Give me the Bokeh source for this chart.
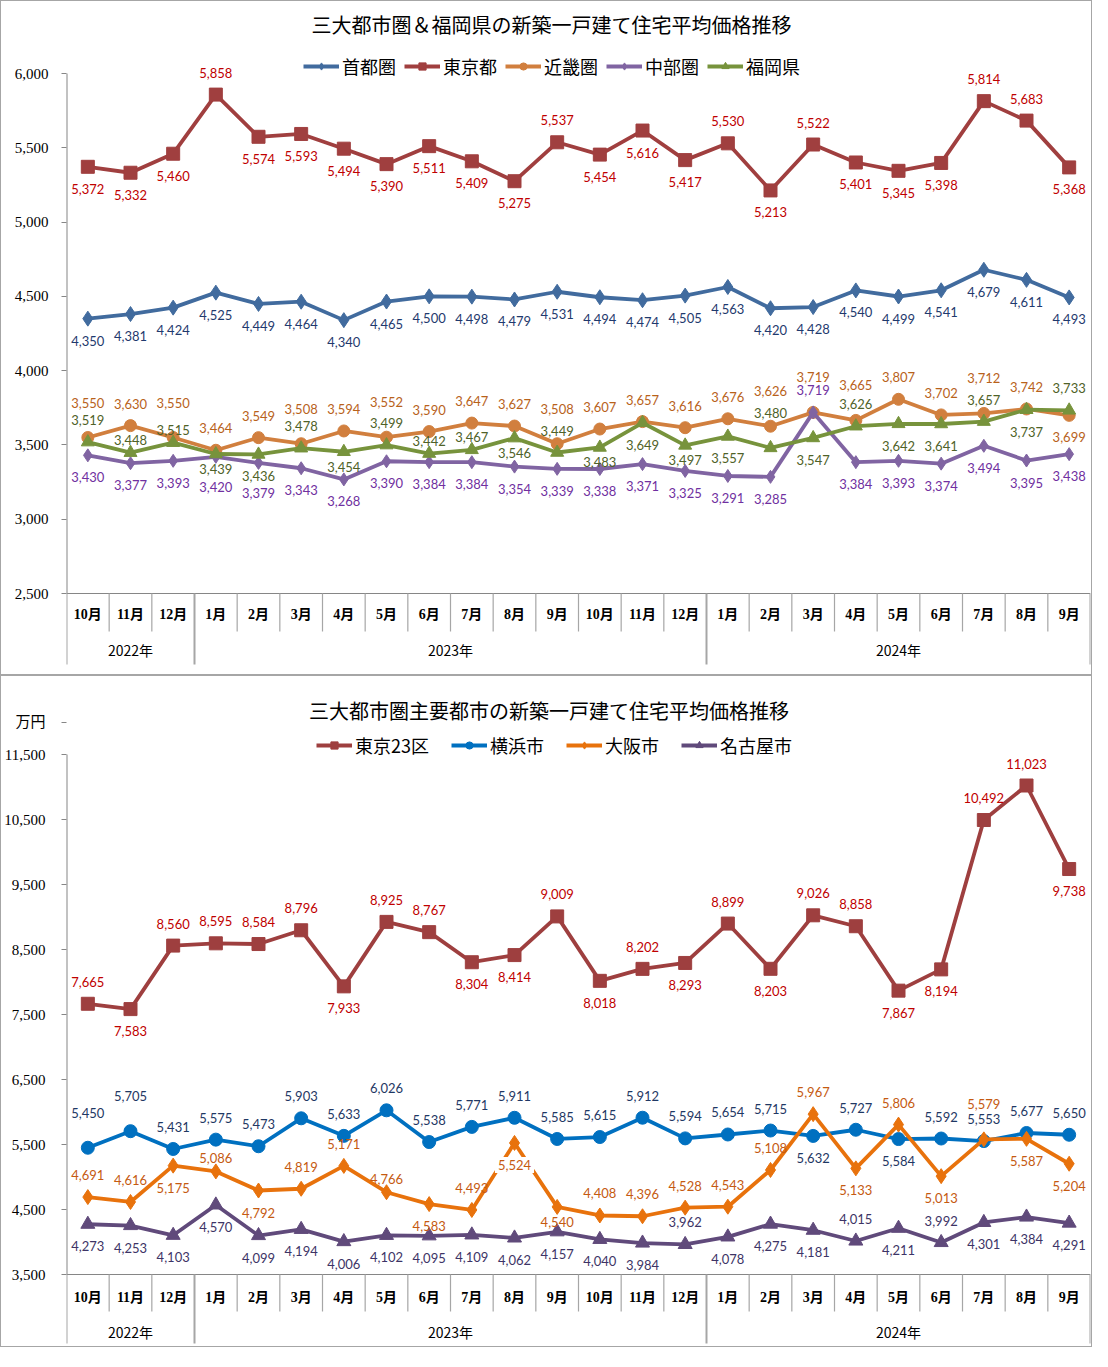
from bokeh.plotting import figure
from bokeh.models import (Range1d, FixedTicker, NumeralTickFormatter, Legend,
                          LegendItem, ColumnDataSource)
from bokeh.layouts import column
from bokeh.embed import file_html
from bokeh.resources import INLINE
from bokeh.core.properties import value

# ---------------- shared category data ----------------
months = ["10月", "11月", "12月",
          "1月", "2月", "3月", "4月", "5月", "6月", "7月", "8月", "9月", "10月", "11月", "12月",
          "1月", "2月", "3月", "4月", "5月", "6月", "7月", "8月", "9月"]
years = ["2022年", "2023年", "2024年"]
months_per_year = [3, 12, 9]

# ---------------- chart 1 data ----------------
title1 = "三大都市圏＆福岡県の新築一戸建て住宅平均価格推移"
names1 = ["首都圏", "東京都", "近畿圏", "中部圏", "福岡県"]
shuto = [4350, 4381, 4424, 4525, 4449, 4464, 4340, 4465, 4500, 4498, 4479, 4531,
         4494, 4474, 4505, 4563, 4420, 4428, 4540, 4499, 4541, 4679, 4611, 4493]
tokyo = [5372, 5332, 5460, 5858, 5574, 5593, 5494, 5390, 5511, 5409, 5275, 5537,
         5454, 5616, 5417, 5530, 5213, 5522, 5401, 5345, 5398, 5814, 5683, 5368]
kinki = [3550, 3630, 3550, 3464, 3549, 3508, 3594, 3552, 3590, 3647, 3627, 3508,
         3607, 3657, 3616, 3676, 3626, 3719, 3665, 3807, 3702, 3712, 3742, 3699]
chubu = [3430, 3377, 3393, 3420, 3379, 3343, 3268, 3390, 3384, 3384, 3354, 3339,
         3338, 3371, 3325, 3291, 3285, 3719, 3384, 3393, 3374, 3494, 3395, 3438]
fukuoka = [3519, 3448, 3515, 3439, 3436, 3478, 3454, 3499, 3442, 3467, 3546, 3449,
           3483, 3649, 3497, 3557, 3480, 3547, 3626, 3642, 3641, 3657, 3737, 3733]
yticks1 = [2500, 3000, 3500, 4000, 4500, 5000, 5500, 6000]

# ---------------- chart 2 data ----------------
title2 = "三大都市圏主要都市の新築一戸建て住宅平均価格推移"
names2 = ["東京23区", "横浜市", "大阪市", "名古屋市"]
tokyo23 = [7665, 7583, 8560, 8595, 8584, 8796, 7933, 8925, 8767, 8304, 8414, 9009,
           8018, 8202, 8293, 8899, 8203, 9026, 8858, 7867, 8194, 10492, 11023, 9738]
yokohama = [5450, 5705, 5431, 5575, 5473, 5903, 5633, 6026, 5538, 5771, 5911, 5585,
            5615, 5912, 5594, 5654, 5715, 5632, 5727, 5584, 5592, 5553, 5677, 5650]
osaka = [4691, 4616, 5175, 5086, 4792, 4819, 5171, 4766, 4583, 4493, 5524, 4540,
         4408, 4396, 4528, 4543, 5108, 5967, 5133, 5806, 5013, 5579, 5587, 5204]
nagoya = [4273, 4253, 4103, 4570, 4099, 4194, 4006, 4102, 4095, 4109, 4062, 4157,
          4040, 3984, 3962, 4078, 4275, 4181, 4015, 4211, 3992, 4301, 4384, 4291]
yticks2 = [3500, 4500, 5500, 6500, 7500, 8500, 9500, 10500, 11500]
unit2 = "万円"
unit2_at = 12000   # axis position where the unit caption sits

# ---------------- styles ----------------
FONT_JP = "Noto Sans CJK JP"
FONT_NUM = "Lato"
FONT_AX = "Liberation Serif"

# label placement codes (a above, b below, A far above, B far below, s/S small)
OFF = {"a": -22, "b": 22, "A": -35, "B": 30, "s": -13, "S": 15}
codes1 = ["b" * 24,
          "bbbabbbbbbbabbbababbbaab",
          "AaAaaAaAaaaAaaaaAAAaaAab",
          "bbbBB" + "b" * 12 + "a" + "b" * 6,
          "assSbaSassSa" + "SbSbAbabbaba"]
codes2 = ["abaaaabaabba" + "bababaabbaab",
          "AAaaaaaaaaaa" + "aaaaababaaaa",
          "aabsbaasbabS" + "aaaaaababAbb",
          "bbbbbbbbbbbb" + "bbabbbababbb"]

style1 = dict(
    line_colors=["#416B9E", "#A03F3F", "#D17F3E", "#8064A2", "#77933C"],
    label_colors=["#1F3A6E", "#C00000", "#B8621B", "#7030A0", "#4F6228"],
    markers=["diamond", "square", "circle", "diamond", "triangle"],
    msizes=[15, 13, 12, 13, 13],
)
style2 = dict(
    line_colors=["#9E3F3F", "#0070C0", "#E8720C", "#604A7B"],
    label_colors=["#C00000", "#1F3864", "#C55A11", "#3D3466"],
    markers=["square", "circle", "diamond", "triangle"],
    msizes=[13, 13, 15, 14],
)

W = 1092
XOFF = 5   # picture x of the figure's left edge


def make_chart(title, names, series, codes, style, yticks, H, bl, br, abs_top,
               px_hi, px_lo, L, boxed=(), extra_tick=None):
    v_hi, v_lo = yticks[-1], yticks[0]
    k = (px_lo - px_hi) / (v_hi - v_lo)

    def ydat(pabs):
        return v_hi - (pabs - px_hi) / k

    n = len(months)
    per = (W - bl - br) / n
    fl = XOFF + bl

    def xdat(pabs):
        return -0.5 + (pabs - fl) / per

    p = figure(width=W, height=H, x_range=Range1d(-0.5, n - 0.5),
               y_range=Range1d(ydat(abs_top + H), ydat(abs_top)),
               output_backend="svg", toolbar_location=None, x_axis_location=None,
               min_border_left=bl, min_border_right=br, min_border_top=0,
               min_border_bottom=0)
    p.styles = {"border": "1px solid #a6a6a6"}
    p.grid.visible = False
    p.outline_line_color = None
    p.background_fill_color = "white"
    ax = p.yaxis[0]
    ticks = list(yticks)
    if extra_tick is not None:
        ticks.append(extra_tick[0])
        ax.major_label_overrides = {extra_tick[0]: extra_tick[1]}
    ax.ticker = FixedTicker(ticks=ticks)
    ax.formatter = NumeralTickFormatter(format="0,0")
    ax.axis_line_color = None
    ax.major_tick_line_color = "#868686"
    ax.major_tick_out = 5
    ax.major_tick_in = 0
    ax.minor_tick_line_color = None
    ax.major_label_text_font = FONT_AX + ", " + FONT_JP
    ax.major_label_text_font_size = "15px"
    ax.major_label_text_color = "#000000"
    ax.major_label_standoff = L["standoff"]

    # axis frame lines
    p.segment(x0=[-0.5], y0=[v_lo], x1=[-0.5], y1=[v_hi], line_color="#868686", line_width=2)
    p.segment(x0=[-0.5], y0=[v_lo], x1=[n - 0.5], y1=[v_lo], line_color="#868686", line_width=1.2)
    # category separators
    bounds = [0]
    for c in months_per_year:
        bounds.append(bounds[-1] + c)
    xs_m = [i - 0.5 for i in range(n + 1) if i not in bounds]
    p.segment(x0=xs_m, y0=[v_lo] * len(xs_m), x1=xs_m, y1=[ydat(L["msep"])] * len(xs_m),
              line_color="#a6a6a6", line_width=1.2)
    xs_y = [b - 0.5 for b in bounds]
    p.segment(x0=xs_y, y0=[v_lo] * len(xs_y), x1=xs_y, y1=[ydat(L["ysep"])] * len(xs_y),
              line_color="#a6a6a6", line_width=2)
    # month & year labels
    p.text(x=list(range(n)), y=[ydat(L["month_y"])] * n, text=months,
           text_align="center", text_baseline="middle",
           text_font=value(FONT_AX + ", " + FONT_JP), text_font_style="bold",
           text_font_size="14px", text_color="#000000")
    yc = [(bounds[i] + bounds[i + 1]) / 2 - 0.5 for i in range(len(years))]
    p.text(x=yc, y=[ydat(L["year_y"])] * len(years), text=years,
           text_align="center", text_baseline="middle", text_font=value(FONT_JP),
           text_font_size="14px", text_color="#000000")
    # title
    p.text(x=[xdat(L["title_x"])], y=[ydat(L["title_y"])], text=[title],
           text_align="center", text_baseline="middle", text_font=value(FONT_JP),
           text_font_size="20px", text_color="#000000")

    xs = list(range(n))
    items = []
    for i, (nm, vals) in enumerate(zip(names, series)):
        c = style["line_colors"][i]
        lr = p.line(xs, vals, line_color=c, line_width=3.8)
        sr = p.scatter(xs, vals, marker=style["markers"][i], size=style["msizes"][i],
                       fill_color=c, line_color=c)
        items.append(LegendItem(label=nm, renderers=[lr, sr]))
    for i, (nm, vals) in enumerate(zip(names, series)):
        src = ColumnDataSource(dict(x=xs, y=vals, t=[f"{v:,}" for v in vals],
                                    dy=[OFF[ch] for ch in codes[i]]))
        p.text(x="x", y="y", text="t", y_offset="dy", source=src,
               text_align="center", text_baseline="middle", text_font=value(FONT_NUM),
               text_font_size="13px", text_color=style["label_colors"][i])
    for (si, pi) in boxed:
        vals = series[si]
        p.text(x=[pi], y=[vals[pi]], text=[f"{vals[pi]:,}"], y_offset=OFF[codes[si][pi]],
               text_align="center", text_baseline="middle", text_font=value(FONT_NUM),
               text_font_size="13px", text_color=style["label_colors"][si],
               background_fill_color="white", padding=3)

    leg = Legend(items=items, orientation="horizontal",
                 location=(L["leg_x"] - fl, abs_top + H - L["leg_y"] - 10),
                 background_fill_alpha=0, border_line_color=None, padding=0, margin=0,
                 spacing=L["leg_spacing"], glyph_width=36, glyph_height=18,
                 label_standoff=3, label_text_font=FONT_JP, label_text_font_size="18px",
                 label_text_color="#000000", label_height=18)
    p.add_layout(leg)
    return p


p1 = make_chart(title1, names1, [shuto, tokyo, kinki, chubu, fukuoka], codes1, style1,
                yticks1, H=675, bl=61, br=3, abs_top=2, px_hi=74, px_lo=594,
                L=dict(standoff=13, msep=632, ysep=665, month_y=615, year_y=650,
                       title_x=553, title_y=25, leg_x=303, leg_y=70, leg_spacing=8))
p2 = make_chart(title2, names2, [tokyo23, yokohama, osaka, nagoya], codes2, style2,
                yticks2, H=672, bl=65, br=2, abs_top=676, px_hi=754, px_lo=1274,
                L=dict(standoff=16, msep=1311, ysep=1343, month_y=1297, year_y=1331,
                       title_x=553, title_y=710, leg_x=320, leg_y=748, leg_spacing=22),
                boxed=[(2, 10)], extra_tick=(unit2_at, unit2))

layout = column(p1, p2, spacing=0)
open("out.html", "w").write(file_html(layout, INLINE))
